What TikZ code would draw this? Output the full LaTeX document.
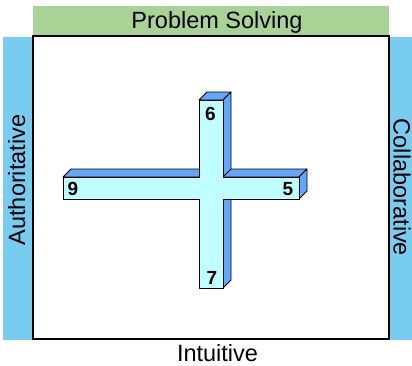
\documentclass[tikz,border=0pt]{standalone}
\usepackage{fontspec}
\setmainfont{Liberation Sans}
\usetikzlibrary{positioning}
\definecolor{barblue}{HTML}{78CCF0}
\definecolor{bargreen}{HTML}{A8D296}
\definecolor{facecyan}{HTML}{BFFFFF}
\definecolor{sideblue}{HTML}{64A6FA}

\begin{document}
\begin{tikzpicture}[x=1pt,y=-1pt,
  axislabel/.style={font=\fontsize{23.5}{26}\selectfont, inner sep=0pt},
  armlabel/.style={font=\fontsize{19}{21}\selectfont\bfseries, inner sep=0pt},
  face/.style={fill=sideblue, draw=black, line width=0.8pt, line join=round}]

\useasboundingbox (0,0) rectangle (412,365);

\fill[bargreen] (33,6) rectangle (389,35);
\fill[barblue] (3,37) rectangle (33,340);
\fill[barblue] (389,37) rectangle (412,340);
\draw[line width=2pt, fill=white] (33,36) rectangle (389,339);

\node[axislabel, anchor=base] (solving) at (217,28.5) {Problem Solving};
\node[axislabel, anchor=base] (intuitive) at (217.5,361) {Intuitive};
\node[axislabel, anchor=base, rotate=90] (authoritative) at (25,180) {Authoritative};
\node[axislabel, anchor=base, rotate=-90] (collaborative) at (393.5,187.5) {Collaborative};

% horizontal bar
\draw[face] (63,177) -- (71,169) -- (307,169) -- (299,177) -- cycle;
\draw[face] (299,177) -- (307,169) -- (307,191) -- (299,199) -- cycle;
% vertical bar
\draw[face] (199,100) -- (207,92) -- (231,92) -- (223,100) -- cycle;
\draw[face] (223,100) -- (231,92) -- (231,169) -- (223,177) -- cycle;
\draw[face] (223,199) -- (231,191) -- (231,280) -- (223,288) -- cycle;
% front of the cross
\draw[fill=facecyan, line width=0.8pt, line join=round] (199,100) -- (223,100) -- (223,177) -- (299,177)
  -- (299,199) -- (223,199) -- (223,288) -- (199,288) -- (199,199) -- (63,199)
  -- (63,177) -- (199,177) -- cycle;

\node[armlabel] (six) at (210.5,113.5) {6};
\node[armlabel] (nine) at (73,189) {9};
\node[armlabel] (five) at (288,189.5) {5};
\node[armlabel] (seven) at (212,278) {7};

\end{tikzpicture}
\end{document}
